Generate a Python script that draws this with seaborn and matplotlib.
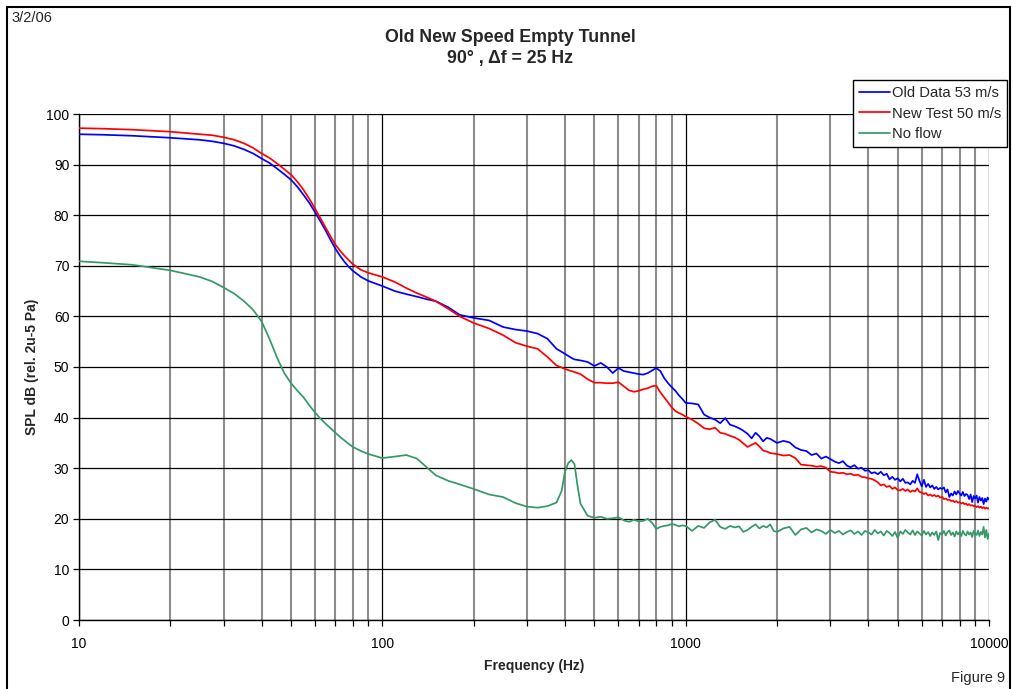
import numpy as np
import pandas as pd
import matplotlib
matplotlib.use("Agg")
import matplotlib.pyplot as plt
from matplotlib.ticker import FixedLocator, FuncFormatter, NullFormatter
from matplotlib.patches import Rectangle
import seaborn as sns

# Frequency grid (Hz)
freq_hz = [
    10, 12, 15, 20, 25, 27.5, 30, 32.5, 35, 37.5, 40, 42.5, 45, 47.5, 50,
    52.5, 55, 57.5, 60, 62.5, 65, 67.5, 70, 72.5, 75, 77.5, 80, 85, 90,
    100, 110, 120, 130, 140, 150, 165, 180, 200, 225, 250, 275, 300, 325, 350,
    375, 390, 400, 410, 420, 430, 440, 450, 475, 500, 525, 550, 575, 600, 625,
    650, 675, 700, 725, 750, 775, 800, 825, 850, 875, 900, 925, 950, 975, 1000,
    1050, 1100, 1150, 1200, 1250, 1300, 1350, 1400, 1450, 1500, 1550, 1600,
    1650, 1700, 1750, 1800, 1850, 1900, 1950, 2000,
    2100, 2200, 2300, 2400, 2500, 2600, 2700, 2800, 2900, 3000,
    3100, 3200, 3300, 3400, 3500, 3600, 3700, 3800, 3900, 4000,
    4100, 4200, 4300, 4400, 4500, 4600, 4700, 4800, 4900, 5000,
    5100, 5200, 5300, 5400, 5500, 5600, 5700, 5800, 5900, 6000,
    6100, 6200, 6300, 6400, 6500, 6600, 6700, 6800, 6900, 7000,
    7100, 7200, 7300, 7400, 7500, 7600, 7700, 7800, 7900, 8000,
    8100, 8200, 8300, 8400, 8500, 8600, 8700, 8800, 8900, 9000,
    9100, 9200, 9300, 9400, 9500, 9600, 9700, 9800, 9900, 10000,
]

# Old Data 53 m/s
old_data_53 = [
    96.0, 95.9, 95.7, 95.3, 94.9, 94.6, 94.2, 93.7, 93.0, 92.2, 91.2, 90.3,
    89.2, 88.1, 87.0,
    85.6, 84.0, 82.4, 80.6, 78.8, 77.0, 75.1, 73.4, 72.0, 70.8, 69.8, 69.0,
    67.8, 67.0,
    66.0, 65.0, 64.4, 63.9, 63.4, 63.0, 61.8, 60.3, 59.7, 59.2, 57.9, 57.4,
    57.1, 56.6, 55.6,
    53.6, 53.0, 52.6, 52.2, 51.8, 51.5, 51.4, 51.3, 51.0, 50.2, 50.8, 50.0,
    48.8, 49.8, 49.2,
    49.0, 48.8, 48.6, 48.5, 48.8, 49.3, 49.8, 49.2, 47.8, 46.8, 46.0, 45.3,
    44.4, 43.7, 42.9,
    42.8, 42.6, 40.6, 40.0, 39.6, 38.9, 39.9, 38.6, 38.3, 37.9, 37.4, 36.8,
    35.9, 37.0, 36.3, 35.3, 36.0, 35.8, 35.4, 35.0,
    35.4, 35.1, 34.1, 33.6, 33.4, 32.6, 32.9, 31.9, 32.3, 31.8,
    31.3, 31.0, 31.4, 30.5, 30.2, 30.6, 29.9, 30.1, 29.5, 29.6,
    29.0, 29.2, 28.8, 29.3, 28.6, 28.9, 27.8, 28.3, 27.7, 28.0,
    27.4, 27.9, 27.1, 27.2, 26.8, 27.5, 27.1, 28.8, 27.5, 26.4,
    27.7, 26.3, 26.9, 26.2, 26.6, 25.9, 26.3, 25.8, 26.1, 25.9,
    26.2, 25.2, 25.8, 24.3, 25.0, 24.6, 25.4, 24.8, 25.5, 25.0,
    24.6, 25.3, 24.5, 24.9, 24.7, 23.9, 24.8, 23.3, 24.5, 24.0,
    24.6, 23.2, 24.3, 23.6, 24.1, 22.9, 24.0, 23.4, 24.2, 23.8,
]

# New Test 50 m/s
new_test_50 = [
    97.2, 97.1, 96.9, 96.5, 96.0, 95.8, 95.4, 94.9, 94.2, 93.3, 92.2, 91.3,
    90.2, 89.1, 88.0,
    86.6, 85.0, 83.2, 81.3, 79.4, 77.6, 75.8, 74.2, 73.0, 72.0, 71.1, 70.3,
    69.2, 68.6,
    67.8, 66.8, 65.6, 64.6, 63.8, 63.0, 61.5, 60.0, 58.7, 57.6, 56.3, 54.8,
    54.1, 53.6, 52.0,
    50.3, 49.9, 49.6, 49.4, 49.2, 49.0, 48.8, 48.6, 47.6, 46.9, 46.9, 46.8,
    46.8, 47.0, 46.2,
    45.4, 45.1, 45.3, 45.6, 45.8, 46.2, 46.3, 45.0, 44.0, 43.0, 42.0, 41.3,
    40.9, 40.6, 40.2,
    39.6, 38.8, 37.9, 37.7, 38.0, 37.0, 36.8, 36.4, 36.1, 35.6, 34.9, 34.2,
    34.6, 35.0, 34.3, 33.5, 33.3, 33.0, 32.9, 32.8,
    32.5, 32.6, 32.0, 30.7, 30.6, 30.5, 30.3, 30.4, 30.1, 29.3,
    29.2, 29.0, 29.1, 28.8, 28.9, 28.6, 28.7, 28.3, 28.2, 28.0,
    27.9, 27.6, 27.2, 26.6, 26.8, 26.3, 26.5, 25.9, 26.2, 25.7,
    25.6, 25.9, 25.5, 25.8, 25.3, 25.6, 25.4, 26.0, 25.3, 25.2,
    24.9, 25.1, 24.6, 24.8, 24.5, 24.7, 24.4, 24.6, 24.2, 24.3,
    23.9, 24.0, 23.7, 23.8, 23.5, 23.6, 23.3, 23.5, 23.2, 23.3,
    23.0, 23.2, 22.9, 23.0, 22.7, 22.9, 22.6, 22.7, 22.5, 22.6,
    22.3, 22.5, 22.2, 22.4, 22.1, 22.3, 22.0, 22.2, 22.0, 22.1,
]

# No flow
no_flow = [
    70.9, 70.6, 70.2, 69.1, 67.8, 66.9, 65.7, 64.5, 63.0, 61.3, 59.0, 55.5,
    51.8, 48.8, 46.8,
    45.3, 44.0, 42.4, 41.0, 39.8, 38.8, 37.9, 37.0, 36.2, 35.5, 34.8, 34.2,
    33.4, 32.8,
    32.0, 32.3, 32.6, 31.9, 30.2, 28.6, 27.5, 26.8, 25.9, 24.8, 24.3, 23.1,
    22.4, 22.2, 22.5,
    23.2, 25.5, 29.3, 31.0, 31.6, 30.8, 26.5, 23.0, 20.6, 20.2, 20.4, 20.0,
    20.1, 20.3, 19.7,
    19.4, 19.8, 19.5, 19.6, 20.0, 19.2, 18.0, 18.4, 18.6, 18.7, 19.0, 18.8,
    18.5, 18.7, 18.6,
    17.6, 18.6, 18.2, 19.3, 19.8, 18.4, 18.0, 18.6, 18.3, 18.5, 17.4, 17.8,
    18.4, 18.9, 18.1, 18.6, 18.3, 18.9, 17.6, 17.4,
    18.1, 18.4, 16.8, 17.9, 18.2, 17.3, 17.9, 17.6, 17.0, 17.8,
    17.2, 17.6, 16.9, 17.4, 17.7, 17.0, 17.5, 16.8, 17.6, 17.3,
    16.9, 17.8, 17.1, 17.5, 16.7, 17.6, 17.2, 16.6, 17.4, 16.2,
    17.5, 17.0, 17.8, 17.3, 16.9, 17.7, 16.8, 17.5, 17.1, 16.7,
    17.6, 16.9, 17.4, 16.6, 17.3, 16.8, 17.5, 15.8, 17.2, 16.9,
    17.6, 16.7, 17.4, 17.7, 16.8, 17.3, 16.5, 17.5, 16.9, 17.4,
    16.6, 17.6, 17.0, 16.7, 17.5, 16.9, 17.3, 16.4, 17.6, 17.0,
    16.8, 17.7, 16.6, 17.4, 16.9, 18.4, 16.3, 17.8, 16.0, 17.1,
]

series_names = ["Old Data 53 m/s", "New Test 50 m/s", "No flow"]
series_colors = ["#0000FF", "#FF0000", "#339966"]

x_major = [10, 100, 1000, 10000]
x_minor = [20, 30, 40, 50, 60, 70, 80, 90,
           200, 300, 400, 500, 600, 700, 800, 900,
           2000, 3000, 4000, 5000, 6000, 7000, 8000, 9000]
y_ticks = [0, 10, 20, 30, 40, 50, 60, 70, 80, 90, 100]

df = pd.DataFrame({
    "freq": freq_hz * 3,
    "spl": old_data_53 + new_test_50 + no_flow,
    "series": [n for n in series_names for _ in freq_hz],
})

sns.set_theme(style="white")
plt.rcParams["font.family"] = ["Liberation Sans", "DejaVu Sans"]

fig = plt.figure(figsize=(10.13, 6.89), dpi=100)
ax = fig.add_axes([79 / 1013, 1 - 620 / 689, (989 - 79) / 1013, (620 - 114) / 689])

sns.lineplot(data=df, x="freq", y="spl", hue="series", hue_order=series_names,
             palette=series_colors, linewidth=1.25, ax=ax, legend=False,
             estimator=None, sort=False, zorder=3)

ax.set_xscale("log")
ax.set_xlim(10, 10000)
ax.set_ylim(0, 100)

ax.xaxis.set_major_locator(FixedLocator(x_major))
ax.xaxis.set_minor_locator(FixedLocator(x_minor))
ax.xaxis.set_major_formatter(FuncFormatter(lambda v, p: f"{int(round(v))}"))
ax.xaxis.set_minor_formatter(NullFormatter())
ax.yaxis.set_major_locator(FixedLocator(y_ticks))

ax.set_axisbelow(True)
ax.grid(True, which="major", axis="y", color="#000000", linewidth=0.9)
ax.grid(True, which="major", axis="x", color="#000000", linewidth=0.9)
ax.grid(True, which="minor", axis="x", color="#8c8c8c", linewidth=1.5)

for side in ["top", "right"]:
    ax.spines[side].set_visible(False)
for side in ["left", "bottom"]:
    ax.spines[side].set_color("black")
    ax.spines[side].set_linewidth(1.0)

ax.tick_params(axis="both", which="both", direction="out", length=4, width=0.9,
               color="black", labelsize=10, labelcolor="black")
ax.tick_params(axis="x", which="major", pad=8)
ax.tick_params(axis="y", which="major", pad=3)
ax.xaxis.set_ticks_position("bottom")
ax.yaxis.set_ticks_position("left")

ax.set_xlabel("Frequency (Hz)", fontsize=10, fontweight="bold", labelpad=6)
ax.set_ylabel("SPL dB (rel. 2u-5 Pa)", fontsize=10, fontweight="bold", labelpad=5)

# Legend drawn from proxy lines
handles = [plt.Line2D([], [], color=c, linewidth=1.25) for c in series_colors]
leg = fig.legend(handles, series_names, loc="upper right",
                 bbox_to_anchor=(1007 / 1013, 1 - 80 / 689), fontsize=10.6,
                 frameon=True, fancybox=False, framealpha=1, edgecolor="black",
                 borderpad=0.4, labelspacing=0.45, handlelength=2.1,
                 handletextpad=0.15, borderaxespad=0)
leg.get_frame().set_linewidth(1.0)

fig.text(510 / 1013, 1 - 37 / 689, "Old New Speed Empty Tunnel", ha="center",
         va="center", fontsize=12.8, fontweight="bold")
fig.text(510 / 1013, 1 - 58 / 689, "90° , Δf = 25 Hz", ha="center",
         va="center", fontsize=12.8, fontweight="bold")

fig.text(11 / 1013, 1 - 18 / 689, "3/2/06", ha="left", va="center", fontsize=10.5)
fig.text(1005 / 1013, 1 - 678 / 689, "Figure 9", ha="right", va="center",
         fontsize=10.5)

fig.patches.append(Rectangle((7 / 1013, -0.02), (1010 - 7) / 1013,
                             1.02 - 7 / 689, transform=fig.transFigure,
                             fill=False, edgecolor="black", linewidth=1.5))

fig.savefig("out.png", dpi=100)
